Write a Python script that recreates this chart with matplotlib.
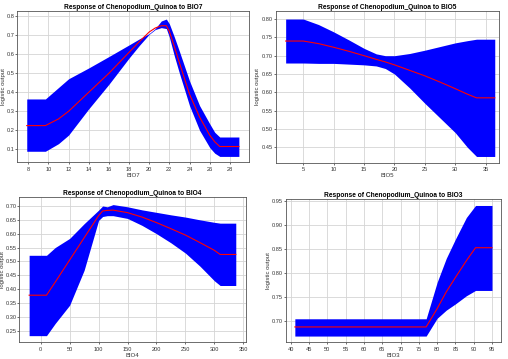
import matplotlib
matplotlib.use("Agg")
import matplotlib.pyplot as plt

plt.rcParams["font.family"] = ["Liberation Sans", "DejaVu Sans"]

# BIO7
bio7_x = [7.85, 9.7, 11, 12, 14, 16, 18, 19, 20, 20.6, 21.2, 21.7, 22, 22.5, 23, 24, 25, 26, 26.5, 27, 28.9]
bio7_mean = [0.225, 0.225, 0.26, 0.30, 0.40, 0.50, 0.61, 0.665, 0.717, 0.738, 0.75, 0.75, 0.72, 0.64, 0.555, 0.39, 0.27, 0.175, 0.14, 0.115, 0.115]
bio7_up = [0.365, 0.365, 0.425, 0.471, 0.528, 0.588, 0.649, 0.68, 0.709, 0.735, 0.775, 0.785, 0.76, 0.69, 0.615, 0.46, 0.33, 0.235, 0.19, 0.165, 0.165]
bio7_lo = [0.09, 0.09, 0.13, 0.175, 0.313, 0.442, 0.58, 0.645, 0.705, 0.73, 0.74, 0.735, 0.69, 0.59, 0.50, 0.33, 0.20, 0.11, 0.08, 0.063, 0.063]

# BIO5
bio5_x = [2.1, 5, 7.5, 10, 12.5, 15, 17, 18.5, 20, 22.5, 25, 27.5, 30, 32, 33.5, 36.5]
bio5_mean = [0.74, 0.74, 0.733, 0.723, 0.712, 0.70, 0.69, 0.683, 0.675, 0.66, 0.645, 0.628, 0.61, 0.595, 0.585, 0.585]
bio5_up = [0.80, 0.80, 0.785, 0.765, 0.743, 0.72, 0.705, 0.70, 0.70, 0.706, 0.715, 0.725, 0.735, 0.741, 0.745, 0.745]
bio5_lo = [0.68, 0.68, 0.679, 0.679, 0.677, 0.675, 0.672, 0.665, 0.65, 0.612, 0.57, 0.53, 0.49, 0.45, 0.425, 0.425]

# BIO4
bio4_x = [-20, 10, 25, 50, 75, 100, 107, 115, 125, 150, 175, 200, 225, 250, 275, 300, 310, 337]
bio4_mean = [0.378, 0.378, 0.425, 0.505, 0.585, 0.665, 0.682, 0.684, 0.685, 0.676, 0.66, 0.64, 0.618, 0.595, 0.568, 0.54, 0.525, 0.525]
bio4_up = [0.522, 0.522, 0.55, 0.583, 0.636, 0.685, 0.70, 0.697, 0.705, 0.697, 0.686, 0.677, 0.668, 0.66, 0.65, 0.641, 0.638, 0.638]
bio4_lo = [0.232, 0.232, 0.276, 0.342, 0.468, 0.648, 0.662, 0.665, 0.665, 0.655, 0.63, 0.60, 0.567, 0.53, 0.483, 0.43, 0.413, 0.413]

# BIO3
bio3_x = [41.1, 77, 80, 82.5, 85, 88, 90.5, 95]
bio3_mean = [0.687, 0.687, 0.725, 0.76, 0.79, 0.825, 0.852, 0.852]
bio3_up = [0.704, 0.704, 0.78, 0.83, 0.87, 0.915, 0.94, 0.94]
bio3_lo = [0.668, 0.668, 0.705, 0.722, 0.735, 0.752, 0.763, 0.763]

panels = [
    ("BIO7", bio7_x, bio7_mean, bio7_up, bio7_lo,
     [0.0344, 0.5479, 0.4557, 0.4223], (6.93, 29.9), (0.032, 0.829),
     list(range(8, 29, 2)), [0.1, 0.2, 0.3, 0.4, 0.5, 0.6, 0.7, 0.8], "{:.1f}", -0.051, 1.5),
    ("BIO5", bio5_x, bio5_mean, bio5_up, bio5_lo,
     [0.5427, 0.5468, 0.4396, 0.4226], (0.46, 37.2), (0.408, 0.822),
     list(range(5, 36, 5)), [0.45, 0.50, 0.55, 0.60, 0.65, 0.70, 0.75, 0.80], "{:.2f}", -0.07, 1.5),
    ("BIO4", bio4_x, bio4_mean, bio4_up, bio4_lo,
     [0.0374, 0.0465, 0.4469, 0.4056], (-37.5, 354.7), (0.208, 0.7335),
     list(range(0, 351, 50)), [0.25, 0.30, 0.35, 0.40, 0.45, 0.50, 0.55, 0.60, 0.65, 0.70], "{:.2f}", -0.061, 0.6),
    ("BIO3", bio3_x, bio3_mean, bio3_up, bio3_lo,
     [0.5624, 0.0465, 0.4248, 0.3992], (38.6, 97.6), (0.655, 0.9535),
     list(range(40, 96, 5)), [0.70, 0.75, 0.80, 0.85, 0.90, 0.95], "{:.2f}", -0.067, 1.0),
]

fig = plt.figure(figsize=(5.08, 3.59), dpi=100)
for name, x, mean, up, lo, pos, xlim, ylim, xt, yt, fmt, ylab_x, tpad in panels:
    ax = fig.add_axes(pos)
    ax.fill_between(x, lo, up, color="#0000ff", linewidth=0, zorder=2)
    ax.plot(x, mean, color="#ff0000", linewidth=0.8, zorder=3)
    ax.set_xlim(*xlim)
    ax.set_ylim(*ylim)
    ax.set_xticks(xt)
    ax.set_yticks(yt)
    ax.set_yticklabels([fmt.format(v) for v in yt])
    ax.grid(True, color="#d4d4d4", linewidth=0.6, zorder=0)
    ax.set_axisbelow(True)
    ax.tick_params(labelsize=4.1, width=0.5, colors="#333333")
    ax.tick_params(axis="x", length=1.5, pad=1.8)
    ax.tick_params(axis="y", length=1.2, pad=0.6)
    for sp in ax.spines.values():
        sp.set_color("#555555")
        sp.set_linewidth(0.6)
    ax.set_title(f"Response of Chenopodium_Quinoa to {name}", fontsize=4.8,
                 fontweight="bold", pad=tpad)
    ax.set_xlabel(name, fontsize=4.3, labelpad=0.8, color="#333333")
    ax.set_ylabel("logistic output", fontsize=4.3, color="#333333")
    ax.yaxis.set_label_coords(ylab_x, 0.5)

fig.savefig("out.png", dpi=100)
